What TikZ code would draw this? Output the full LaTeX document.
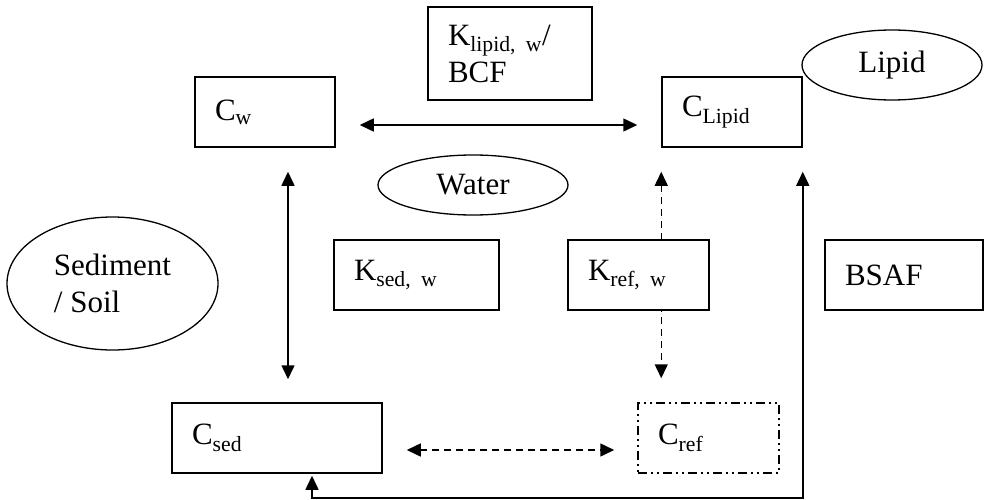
\documentclass[tikz,border=0pt]{standalone}
\usepackage{fontspec}
\setmainfont{Liberation Serif}
\usetikzlibrary{arrows.meta,shapes.geometric,backgrounds}

\begin{document}
\begin{tikzpicture}[x=1pt,y=-1pt,>={Triangle[length=14pt,width=13pt]},
    box/.style={draw,line width=1.5pt,fill=white,align=left,inner xsep=20pt,inner ysep=0pt,minimum height=70pt,font=\fontsize{31}{37}\selectfont},
    phase/.style={draw,ellipse,line width=1.3pt,inner sep=0pt,align=left,font=\fontsize{31}{37}\selectfont},
    flow/.style={line width=1.5pt},
    dashflow/.style={flow,dash pattern=on 7pt off 5pt}]
    \useasboundingbox (0,0) rectangle (984,500);
    % concentrations and partition coefficients
    \node[box,text width=100pt] (cw) at (265,112) {C\textsubscript{w}};
    \node[box,text width=124pt,minimum height=93pt] (klip) at (510,53.5) {K\textsubscript{lipid, w}/\\BCF};
    \node[box,text width=100pt] (clip) at (732,112) {C\textsubscript{Lipid}};
    \node[box,text width=125pt] (ksed) at (416.5,275) {K\textsubscript{sed, w}};
    \node[box,text width=101pt] (kref) at (638.5,275) {K\textsubscript{ref, w}};
    \node[box,text width=118pt] (bsaf) at (904,275) {BSAF};
    \node[box,text width=170pt] (csed) at (277,438) {C\textsubscript{sed}};
    \node[box,text width=101pt,dash pattern=on 9pt off 4pt on 2pt off 4pt on 2pt off 4pt] (cref) at (708.5,438) {C\textsubscript{ref}};
    % phases
    \node[phase,minimum width=190pt,minimum height=60pt] (water) at (473,185) {Water};
    \node[phase,minimum width=180pt,minimum height=70pt] (lipid) at (892,65) {Lipid};
    \node[phase,minimum width=211pt,minimum height=133pt] (sed) at (112.5,283.5) {Sediment\\/ Soil};
    \begin{scope}[on background layer]
      \draw[flow,<->] ([shift={(24,13)}]cw.east) -- ([shift={(-24,13)}]clip.west);
      \draw[flow,<->] ([shift={(23,24)}]cw.south) -- ([shift={(11,-23)}]csed.north);
      \draw[dashflow,<->] ([shift={(0,24)}]clip.south west) -- ([shift={(24,-24)}]cref.north west);
      \draw[flow,<->] ([shift={(0,24)}]clip.south east) -- ++(0,326) -| ([shift={(35,2)}]csed.south);
      \draw[dashflow,<->] ([shift={(24,12)}]csed.east) -- ([shift={(-23,12)}]cref.west);
    \end{scope}
\end{tikzpicture}
\end{document}
